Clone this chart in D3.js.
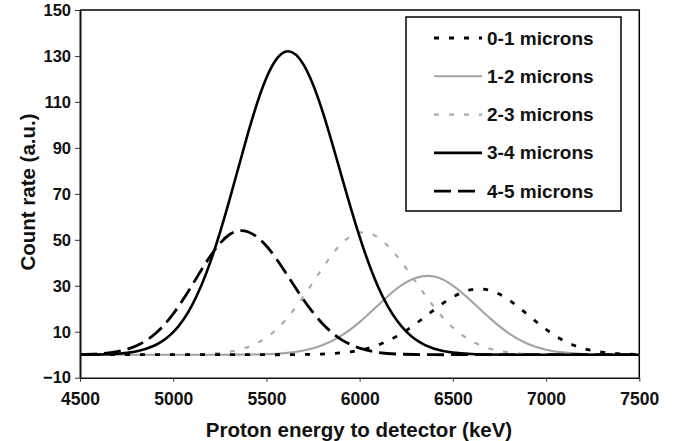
<!DOCTYPE html>
<html>
<head>
<meta charset="utf-8">
<script src="https://cdn.jsdelivr.net/npm/d3@7"></script>
<style>
  html, body { margin: 0; padding: 0; background: #fff; }
  svg { display: block; font-family: "Liberation Sans", Arial, sans-serif; }
</style>
</head>
<body>
<svg id="chart" width="677" height="441"></svg>
<script>
// ---- data ----
const energies = [4500,4600,4700,4800,4900,5000,5100,5200,5300,5400,5500,5600,5700,5800,5900,6000,
                  6100,6200,6300,6400,6500,6600,6700,6800,6900,7000,7100,7200,7300,7400,7500];
const seriesNames = ["0-1 microns","1-2 microns","2-3 microns","3-4 microns","4-5 microns"];
const s01 = [0,0,0,0,0,0,0,0,0,0,0,0,0.1,0.3,0.8,2.0,4.3,8.1,13.4,19.6,25.1,28.3,28.0,23.9,17.5,11.0,5.9,2.7,1.1,0.4,0.1];
const s12 = [0,0,0,0,0,0,0,0,0,0.1,0.2,0.7,1.8,4.1,8.2,14.2,21.6,28.8,33.4,34.0,30.1,23.3,15.8,9.3,4.8,2.2,0.9,0.3,0.1,0,0];
const s23 = [0,0,0,0,0,0,0.1,0.4,1.3,3.3,7.5,14.9,25.5,37.6,48.1,53.1,50.9,42.9,31.8,20.7,11.8,6.0,2.6,1.0,0.3,0.1,0,0,0,0,0];
const s34 = [0,0.1,0.4,1.4,4.0,9.8,21.4,40.5,66.8,96.1,120.5,131.8,126.1,106.1,78.6,51.3,29.4,14.9,6.6,2.6,0.9,0.3,0.1,0,0,0,0,0,0,0,0];
const s45 = [0.1,0.4,1.4,3.8,8.9,17.8,30.1,43.0,52.2,53.5,47.3,36.1,23.8,13.6,6.7,2.9,1.0,0.3,0.1,0,0,0,0,0,0,0,0,0,0,0,0];
const xTicks = [4500,5000,5500,6000,6500,7000,7500];
const yTicks = [-10,10,30,50,70,90,110,130,150];
const xTitle = "Proton energy to detector (keV)";
const yTitle = "Count rate (a.u.)";

// ---- styles ----
const styles = {
  "0-1 microns": {color:"#000", width:2.8, dash:"5,10"},
  "1-2 microns": {color:"#a3a3a3", width:2.1, dash:null},
  "2-3 microns": {color:"#ababab", width:2.2, dash:"5,10"},
  "3-4 microns": {color:"#000", width:2.6, dash:null},
  "4-5 microns": {color:"#000", width:2.8, dash:"17,7"}
};
const valuesByName = {"0-1 microns":s01,"1-2 microns":s12,"2-3 microns":s23,"3-4 microns":s34,"4-5 microns":s45};
const drawOrder = ["1-2 microns","2-3 microns","0-1 microns","4-5 microns","3-4 microns"];

const svg = d3.select("#chart");
const L = 80, R = 639.3, T = 10, B = 377.7;
const x = d3.scaleLinear().domain([4500,7500]).range([L,R]);
const y = d3.scaleLinear().domain([-10,150]).range([B,T]);

// plot frame (top & right)
svg.append("path")
  .attr("d", `M${L},${T}H${R}V${B}`)
  .attr("fill","none").attr("stroke","#000").attr("stroke-width",1.5);

// curves
const line = d3.line().x((d,i)=>x(energies[i])).y(d=>y(Math.max(d,0))).curve(d3.curveNatural);
const g = svg.append("g");
drawOrder.forEach(name => {
  const st = styles[name];
  g.append("path")
    .datum(valuesByName[name])
    .attr("d", line)
    .attr("fill","none")
    .attr("stroke", st.color)
    .attr("stroke-width", st.width)
    .attr("stroke-dasharray", st.dash)
    .attr("stroke-linejoin","round");
});

// axes
const yAxis = svg.append("g").attr("transform",`translate(${L},0)`)
  .call(d3.axisLeft(y).tickValues(yTicks).tickSize(5).tickPadding(4).tickSizeOuter(0).tickFormat(d3.format("d")));
yAxis.select(".domain").attr("stroke","#111").attr("stroke-width",2);
yAxis.selectAll(".tick line").attr("stroke","#333").attr("stroke-width",1);
yAxis.selectAll("text").attr("font-size","16.5px").attr("font-weight","bold").attr("fill","#111")
  .attr("font-family","'Liberation Sans', Arial, sans-serif");

const xAxis = svg.append("g").attr("transform",`translate(0,${B})`)
  .call(d3.axisBottom(x).tickValues(xTicks).tickSize(4).tickPadding(11).tickSizeOuter(0).tickFormat(d3.format("d")));
xAxis.select(".domain").attr("stroke","#111").attr("stroke-width",1.5);
xAxis.selectAll(".tick line").attr("stroke","#333").attr("stroke-width",1);
xAxis.selectAll("text").attr("font-size","17.5px").attr("font-weight","bold").attr("fill","#111")
  .attr("font-family","'Liberation Sans', Arial, sans-serif");

// titles
svg.append("text").attr("x",359).attr("y",437).attr("text-anchor","middle")
  .attr("font-size","20.5px").attr("font-weight","bold").attr("fill","#111").text(xTitle);
svg.append("text").attr("transform","translate(35,192) rotate(-90)").attr("text-anchor","middle")
  .attr("font-size","20.5px").attr("font-weight","bold").attr("fill","#111").text(yTitle);

// legend
const lg = svg.append("g");
lg.append("rect").attr("x",406).attr("y",17).attr("width",215).attr("height",194)
  .attr("fill","#fff").attr("stroke","#000").attr("stroke-width",1.5);
seriesNames.forEach((name,i) => {
  const cy = 38 + i*38.3;
  const st = styles[name];
  lg.append("line").attr("x1",434).attr("x2",482).attr("y1",cy).attr("y2",cy)
    .attr("stroke",st.color).attr("stroke-width",st.width).attr("stroke-dasharray",st.dash);
  lg.append("text").attr("x",487).attr("y",cy+6.5).attr("font-size","19px").attr("font-weight","bold")
    .attr("fill","#111").text(name);
});
</script>
</body>
</html>
